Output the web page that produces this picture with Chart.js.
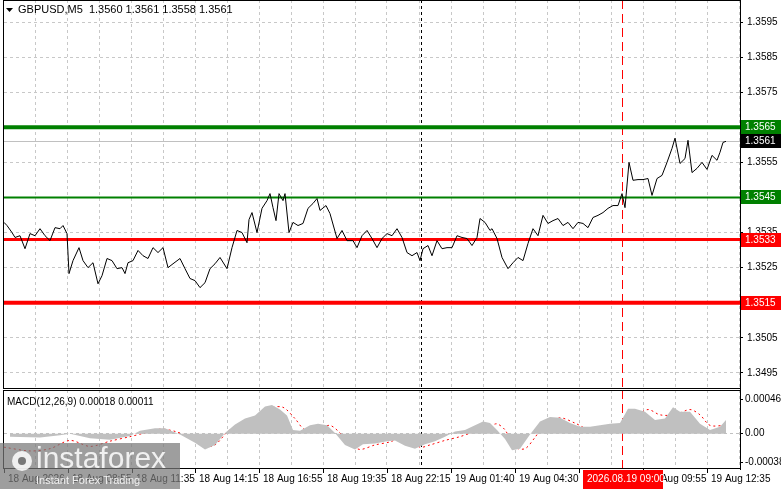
<!DOCTYPE html>
<html><head><meta charset="utf-8">
<script src="https://cdn.jsdelivr.net/npm/chart.js@4.4.1/dist/chart.umd.min.js"></script>
<style>
html,body{margin:0;padding:0;background:#fff;overflow:hidden}
#wa{position:absolute;left:0;top:0;width:781px;height:390px}
#wb{position:absolute;left:0;top:389px;width:781px;height:100px}
</style></head><body>
<div id="wa"><canvas id="ca"></canvas></div>
<div id="wb"><canvas id="cb"></canvas></div>
<script>
const title = "GBPUSD,M5  1.3560 1.3561 1.3558 1.3561";
const macdTitle = "MACD(12,26,9) 0.00018 0.00011";
const priceBars = [0,1.5,4,5.5,8,10.5,13,15.5,18,20.5,23,25.5,28,29.5,31.5,32.5,34.5,37.5,39.5,42,44.5,47,49,51.5,54,56.5,59,60.5,62,64.5,67,69.5,72,74.5,77,79.5,82,84.5,88,90.5,93,95.5,98,100.5,103,105.5,108,111.5,114,116.5,119,121.5,122.5,124,126.5,129,131.5,133,134.5,136,137.5,139.5,140.5,142.5,144.5,147,149.5,152,154.5,156.5,158,161,163,166.5,169,171.5,174.5,176.5,179,181.5,184,186.5,189,191.5,194,196.5,199,201.5,204,206.5,208,209.5,212,214,216.5,219,221.5,224,226.5,229,231.5,234,236.5,238,240.5,243,244,246.5,249,252,254.5,257,259.5,262,264.5,267,269.5,272,274.5,277,279.5,282,284.5,287,289.5,292,294.5,297,299.5,302,304.5,307,309,310.5,312.5,314.5,317,319.5,322,324,326.5,329,331.5,334,335.5,338,340.5,342,344,346.5,349,351.5,354,356.5,358,359.5,361];
const closes = [1.35379,1.3537,1.3535,1.35336,1.35341,1.35304,1.35347,1.35341,1.35361,1.35341,1.35327,1.35364,1.35361,1.3537,1.35347,1.35233,1.3527,1.35307,1.3527,1.3525,1.35264,1.35204,1.35227,1.35276,1.3527,1.35247,1.3525,1.35233,1.35264,1.3527,1.35299,1.35284,1.35276,1.35307,1.35293,1.35307,1.3525,1.35261,1.35276,1.35247,1.35219,1.35213,1.35193,1.35207,1.35247,1.35261,1.35279,1.35247,1.35307,1.35356,1.3535,1.35321,1.35387,1.35407,1.3535,1.35419,1.35441,1.35461,1.35421,1.35384,1.35461,1.35441,1.35461,1.3535,1.35379,1.3537,1.35376,1.35419,1.35433,1.35447,1.35413,1.35427,1.35404,1.35333,1.35356,1.35327,1.35327,1.35307,1.35341,1.35356,1.35333,1.35307,1.35333,1.35347,1.35341,1.35361,1.35336,1.35293,1.35284,1.35293,1.3527,1.35304,1.35313,1.35284,1.35327,1.35304,1.35307,1.35307,1.35341,1.35336,1.35333,1.35313,1.35336,1.3539,1.35379,1.35356,1.35361,1.35333,1.35279,1.35247,1.35264,1.35279,1.3527,1.35319,1.35361,1.35341,1.35399,1.35376,1.35384,1.3539,1.3537,1.35379,1.35361,1.35379,1.35376,1.35364,1.35393,1.35399,1.35407,1.35419,1.35427,1.35427,1.35461,1.35421,1.3555,1.35499,1.35501,1.35501,1.35504,1.35456,1.35504,1.35513,1.3555,1.3559,1.35619,1.35547,1.35561,1.35613,1.35521,1.35533,1.3555,1.3553,1.3557,1.35556,1.35579,1.35607,1.3561];
const histBars = [3,18,28,33,43,53,63,68,75.5,80.5,88,95.5,100.5,105.5,110.5,115.5,120.5,125.5,130.5,134,138,141.5,144.5,148,153,157,161.5,165.5,170.5,175.5,179.5,185.5,191.5,195.5,200.5,205.5,210.5,215.5,220.5,225.5,230.5,235.5,239.5,243,246.5,250.5,254,258,263,268,273,278,283,288,293,298,303,308,312,315.5,320.5,325.5,330.5,334.5,338,343,348,353,358,361];
const histVals = [-0.00004,-0.00005,-0.00002,0,-0.00006,-0.00008,-0.00003,0.00004,0.00007,0.00007,-0.00001,-0.00012,-0.00021,-0.00015,0.00001,0.00012,0.0002,0.00024,0.00036,0.00038,0.00032,0.00024,0.00005,0.00004,0.00011,0.00013,0.00011,0.00001,-0.00015,-0.00021,-0.00014,-0.00013,-0.0001,-0.00009,-0.00016,-0.0002,-0.00014,-0.0001,-0.00004,0.00003,0.00005,0.00011,0.00016,0.00014,0.00005,-0.00007,-0.00022,-0.0002,-0.00001,0.00016,0.00022,0.00021,0.00014,0.00009,0.00009,0.00011,0.00013,0.00014,0.00033,0.00033,0.00029,0.00018,0.0002,0.00035,0.00029,0.00029,0.00013,0.00005,0.00009,0.00018];
const sigBars = [0,13,23,33,43,53,63,70.5,78,85.5,93,100.5,105.5,112,118,125.5,133,139.5,145.5,150.5,158,163,168,173,178,185.5,193,199.5,208,213,220.5,228,235.5,243,246.5,250.5,255.5,260.5,265.5,270.5,278,285.5,293,300.5,308,315.5,322,328,335.5,343,348,353,360.5];
const sigVals = [-0.00018,-0.00023,-0.0002,-0.00009,-0.00017,-0.0001,-0.00004,0.00001,0.00006,0.00003,-0.00005,-0.00017,-0.00015,0.00003,0.00012,0.00022,0.00034,0.00035,0.0002,0.00005,0.00007,0.00011,0.00001,-0.00014,-0.00021,-0.00015,-0.00011,-0.00005,-0.00018,-0.00015,-0.00009,-0.00004,0.00003,0.0001,0.00013,0.00005,-0.00018,-0.0002,-0.00005,0.00013,0.00021,0.00014,0.00005,0.00009,0.00013,0.00023,0.00032,0.00025,0.00025,0.00032,0.00025,0.00011,0.00011];
const levels = [1.3565,1.3545,1.3533,1.3515];
const levelColors = ['#008000','#008000','#ff0000','#ff0000'];
const levelWidths = [4,2,3,4];
const lastPrice = 1.3561;
const priceTicks = [1.3495,1.3505,1.3515,1.3525,1.3535,1.3545,1.3555,1.3565,1.3575,1.3585,1.3595];
const macdTicks = [-0.00038,0,0.00046];
const timeLabelBars = [0,32,64,95.5,127.5,159.5,191.5,223.5,255.5,287.5,319.5,351.5];
const timeLabels = ["18 Aug 2026","18 Aug 08:55","18 Aug 11:35","18 Aug 14:15","18 Aug 16:55","18 Aug 19:35","18 Aug 22:15","19 Aug 01:40","19 Aug 04:30","19 Aug 07:15","19 Aug 09:55","19 Aug 12:35"];
const markerBar = 309, markerLabel = "2026.08.19 09:00";
const dottedBar = 208.5;
const X_MAX = 368;
const FONT = '10px "Liberation Sans"';

function pts(xs, ys){ return xs.map((x,i)=>({x:x,y:ys[i]})); }
function gridTicks(){ const t=[]; for(let v=15.5; v<X_MAX; v+=16) t.push({value:v}); return t; }
const xCommon = {type:'linear', min:0, max:X_MAX, afterBuildTicks:s=>{s.ticks=gridTicks();},
  ticks:{display:false}, grid:{color:'#c8c8c8', drawTicks:false}, border:{display:false, dash:[3,3]},
  afterFit:s=>{s.height=0;s.paddingLeft=0;s.paddingRight=0;}};
const yFit = s=>{s.width=41;s.paddingTop=0;s.paddingBottom=0;};

function vlines(ch){
  const c=ch.ctx, a=ch.chartArea, xs=ch.scales.x;
  c.save();
  let x=Math.round(xs.getPixelForValue(dottedBar))+0.5;
  c.strokeStyle='#000'; c.lineWidth=1; c.setLineDash([3,3]);
  c.beginPath(); c.moveTo(x,a.top); c.lineTo(x,a.bottom); c.stroke();
  x=Math.round(xs.getPixelForValue(markerBar))+0.5;
  c.strokeStyle='#ff0000'; c.setLineDash([9,5]);
  c.beginPath(); c.moveTo(x,a.top); c.lineTo(x,a.bottom); c.stroke();
  c.restore();
}
function frame(ch){
  const c=ch.ctx,a=ch.chartArea;
  c.save(); c.strokeStyle='#000'; c.lineWidth=1;
  c.strokeRect(a.left-0.5,a.top+0.5,a.right-a.left+1,a.bottom-a.top-1);
  c.restore();
}

const pluginA = {id:'pa',
  beforeDatasetsDraw(ch){ vlines(ch);
    const c=ch.ctx,a=ch.chartArea,y=ch.scales.y;
    c.save(); c.strokeStyle='#c0c0c0'; c.lineWidth=1;
    const py=Math.round(y.getPixelForValue(lastPrice))+0.5;
    c.beginPath(); c.moveTo(a.left,py); c.lineTo(a.right,py); c.stroke();
    levels.forEach((v,i)=>{ const p=y.getPixelForValue(v);
      c.strokeStyle=levelColors[i]; c.lineWidth=levelWidths[i];
      c.beginPath(); c.moveTo(a.left,p); c.lineTo(a.right,p); c.stroke(); });
    c.restore();
  },
  afterDraw(ch){
    frame(ch);
    const c=ch.ctx,a=ch.chartArea,y=ch.scales.y;
    c.save(); c.font=FONT; c.textBaseline='middle';
    const box=(v,bg)=>{ const p=Math.round(y.getPixelForValue(v));
      c.fillStyle=bg; c.fillRect(a.right+1,p-7,781-a.right-1,14);
      c.fillStyle='#fff'; c.fillText(v.toFixed(4),a.right+5,p+0.5); };
    levels.forEach((v,i)=>box(v,levelColors[i]));
    box(lastPrice,'#000');
    c.fillStyle='#000'; c.font='11px "Liberation Sans"';
    c.beginPath(); c.moveTo(6,8); c.lineTo(13,8); c.lineTo(9.5,12); c.closePath(); c.fill();
    c.fillText(title,18,10);
    c.restore();
  }};

new Chart(document.getElementById('ca'),{
  type:'line',
  data:{datasets:[{data:pts(priceBars,closes),borderColor:'#000',borderWidth:1,pointRadius:0,tension:0}]},
  options:{responsive:true,maintainAspectRatio:false,animation:false,
    layout:{padding:{left:4,top:0,bottom:1,right:0}},
    plugins:{legend:{display:false},tooltip:{enabled:false}},
    scales:{x:xCommon,
      y:{position:'right',min:1.34904,max:1.36013,afterBuildTicks:s=>{s.ticks=priceTicks.map(v=>({value:v}));},
        afterFit:yFit,
        ticks:{font:{family:'Liberation Sans',size:10},color:'#000',padding:4,crossAlign:'near',callback:v=>v.toFixed(4)},
        grid:{color:'#c8c8c8',drawTicks:true,tickLength:3,tickColor:'#000'},border:{display:true,color:'#000',dash:[3,3]}}}},
  plugins:[pluginA]});

const pluginB = {id:'pb',
  beforeDatasetsDraw(ch){ vlines(ch); },
  afterDraw(ch){
    frame(ch);
    const c=ch.ctx,a=ch.chartArea,xs=ch.scales.x;
    c.save(); c.font=FONT; c.fillStyle='#000'; c.textBaseline='middle';
    c.fillText(macdTitle,7,13);
    timeLabelBars.forEach((b,i)=>{ const x=xs.getPixelForValue(b);
      c.fillStyle='#000'; c.fillRect(Math.round(x),a.bottom,1,4);
      c.fillText(timeLabels[i],x+4,a.bottom+10); });
    const mx=xs.getPixelForValue(markerBar);
    c.fillStyle='#ff0000'; c.fillRect(mx-39,a.bottom+1,80,19);
    c.fillStyle='#fff'; c.fillText(markerLabel,mx-35,a.bottom+10);
    // logo
    c.fillStyle='rgba(120,120,120,0.72)'; c.fillRect(0,54,180,46);
    c.fillStyle='rgba(255,255,255,0.85)';
    c.beginPath(); c.arc(22,72,10,0,Math.PI*2); c.fill();
    c.fillStyle='rgba(120,120,120,1)'; c.beginPath(); c.arc(22,72,4,0,Math.PI*2); c.fill();
    c.fillStyle='rgba(255,255,255,0.85)';
    c.font='30px "Liberation Sans"'; c.fillText('instaforex',36,71);
    c.font='11px "Liberation Sans"'; c.fillText('Instant Forex Trading',36,92);
    c.restore();
  }};

new Chart(document.getElementById('cb'),{
  type:'line',
  data:{datasets:[
    {data:pts(histBars,histVals),borderWidth:0,borderColor:'#c0c0c0',backgroundColor:'#c0c0c0',fill:'origin',pointRadius:0,tension:0},
    {data:pts(sigBars,sigVals),borderColor:'#ff0000',borderWidth:1,borderDash:[2,3],pointRadius:0,tension:0.3,fill:false}]},
  options:{responsive:true,maintainAspectRatio:false,animation:false,
    layout:{padding:{left:4,top:1,bottom:20,right:0}},
    plugins:{legend:{display:false},tooltip:{enabled:false}},
    scales:{x:xCommon,
      y:{position:'right',min:-0.00047,max:0.00058,afterBuildTicks:s=>{s.ticks=macdTicks.map(v=>({value:v}));},
        afterFit:yFit,
        ticks:{font:{family:'Liberation Sans',size:10},color:'#000',padding:2,crossAlign:'near',
          callback:v=>v===0?'0.00':v.toFixed(5)},
        grid:{color:c=>c.tick&&c.tick.value===0?'#c0c0c0':'rgba(0,0,0,0)',drawTicks:true,tickLength:3,tickColor:'#000'},
        border:{display:true,color:'#000',dash:[3,3]}}}},
  plugins:[pluginB]});
</script></body></html>
